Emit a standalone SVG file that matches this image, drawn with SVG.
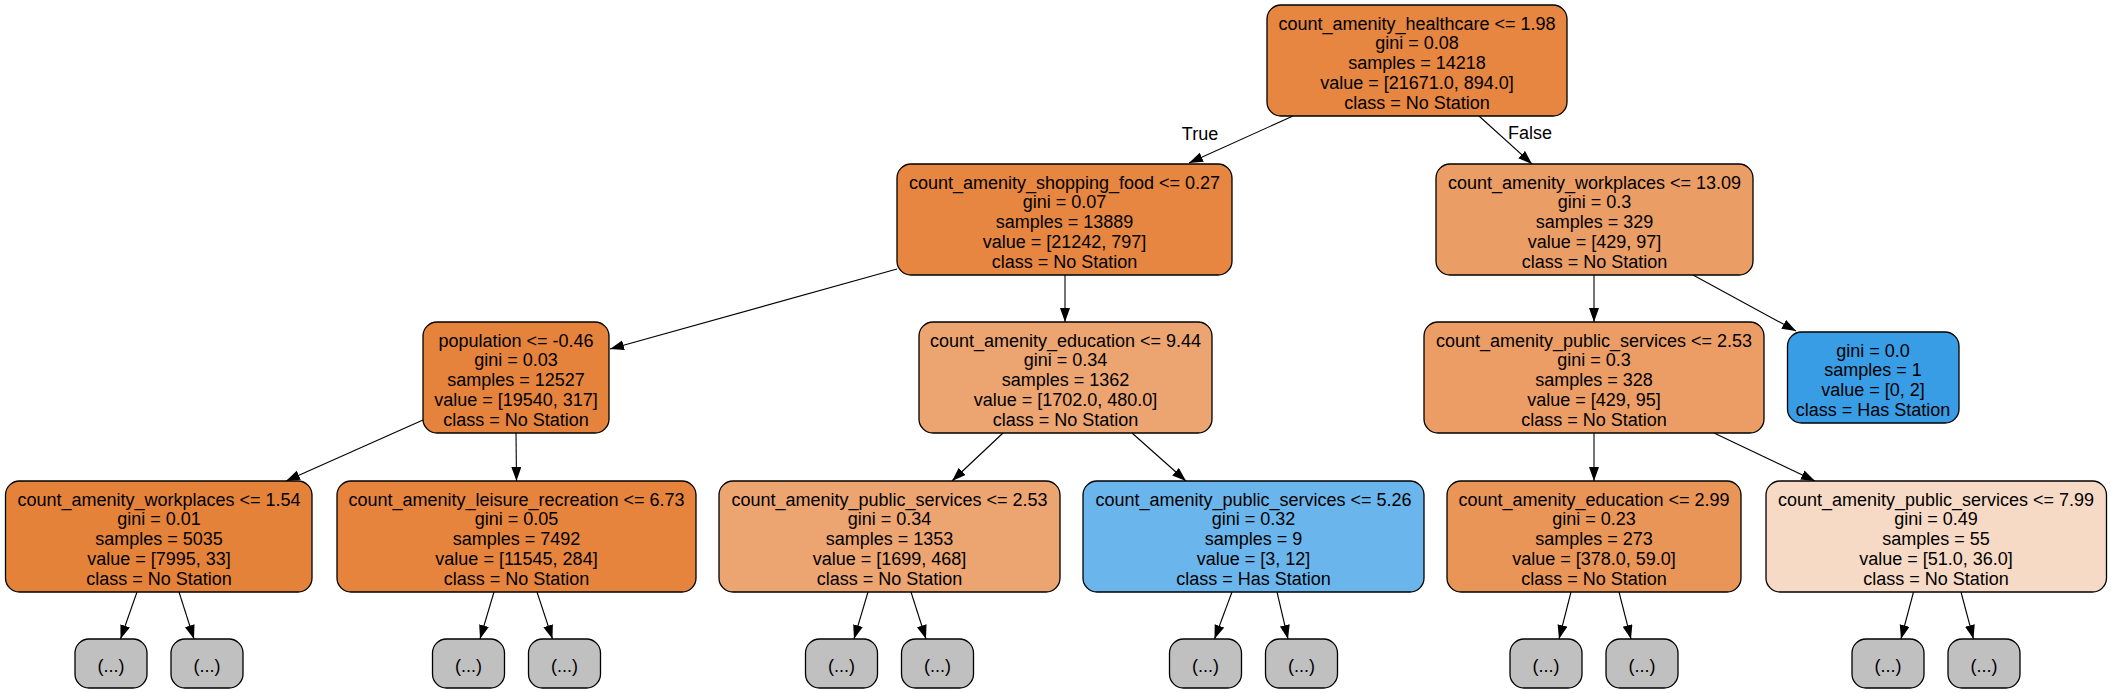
<svg xmlns="http://www.w3.org/2000/svg" width="2111" height="693" viewBox="0 0 2111 693">
<style>
  .box { stroke: #000; stroke-width: 1.3; }
  .leaf { fill: #c0c0c0; stroke: #000; stroke-width: 1.3; }
  text { font-family: "Liberation Sans", Arial, Helvetica, sans-serif; font-size: 18px; fill: #000; text-anchor: middle; }
  .edge { stroke: #000; stroke-width: 1.1; fill: none; marker-end: url(#arr); }
</style>
<defs>
  <marker id="arr" markerUnits="userSpaceOnUse" markerWidth="15" markerHeight="11" refX="14" refY="5" orient="auto">
    <path d="M0,0 L14,5 L0,10 z" fill="#000"/>
  </marker>
</defs>
<rect width="2111" height="693" fill="#fff"/>

<g id="connectors">
  <line class="edge" x1="1293" y1="116" x2="1189" y2="163"/>
  <line class="edge" x1="1479" y1="116" x2="1532" y2="164"/>
  <text x="1200" y="139.5">True</text>
  <text x="1530" y="138.5">False</text>
  <line class="edge" x1="897" y1="269" x2="610" y2="349"/>
  <line class="edge" x1="1065" y1="275" x2="1065" y2="322"/>
  <line class="edge" x1="1594" y1="275" x2="1594" y2="322"/>
  <line class="edge" x1="1693" y1="275" x2="1796" y2="331"/>
  <line class="edge" x1="423" y1="420" x2="286" y2="481"/>
  <line class="edge" x1="516" y1="433" x2="516.5" y2="481"/>
  <line class="edge" x1="1003" y1="433" x2="952" y2="481"/>
  <line class="edge" x1="1132" y1="433" x2="1186" y2="481"/>
  <line class="edge" x1="1594" y1="433" x2="1594" y2="481"/>
  <line class="edge" x1="1714" y1="433" x2="1815" y2="481"/>
  <line class="edge" x1="137" y1="592" x2="120.5" y2="639"/>
  <line class="edge" x1="179" y1="592" x2="194" y2="639"/>
  <line class="edge" x1="494" y1="592" x2="480" y2="639"/>
  <line class="edge" x1="537" y1="592" x2="552.5" y2="639"/>
  <line class="edge" x1="868" y1="592" x2="854" y2="639"/>
  <line class="edge" x1="911" y1="592" x2="926" y2="639"/>
  <line class="edge" x1="1232" y1="592" x2="1214.5" y2="639"/>
  <line class="edge" x1="1277" y1="592" x2="1288" y2="639"/>
  <line class="edge" x1="1571" y1="592" x2="1559" y2="639"/>
  <line class="edge" x1="1619" y1="592" x2="1631" y2="639"/>
  <line class="edge" x1="1913.5" y1="592" x2="1901" y2="639"/>
  <line class="edge" x1="1961" y1="592" x2="1973.5" y2="639"/>
</g>

<g id="n0">
  <rect class="box" x="1267" y="5" width="300" height="111" rx="14" fill="#e68641"/>
  <text x="1417" y="29.5">count_amenity_healthcare &lt;= 1.98</text>
  <text x="1417" y="49.25">gini = 0.08</text>
  <text x="1417" y="69">samples = 14218</text>
  <text x="1417" y="88.75">value = [21671.0, 894.0]</text>
  <text x="1417" y="108.5">class = No Station</text>
</g>
<g id="n1">
  <rect class="box" x="897" y="164" width="335" height="111" rx="14" fill="#e68640"/>
  <text x="1064.5" y="188.5">count_amenity_shopping_food &lt;= 0.27</text>
  <text x="1064.5" y="208.25">gini = 0.07</text>
  <text x="1064.5" y="228">samples = 13889</text>
  <text x="1064.5" y="247.75">value = [21242, 797]</text>
  <text x="1064.5" y="267.5">class = No Station</text>
</g>
<g id="n2">
  <rect class="box" x="1436" y="164" width="317" height="111" rx="14" fill="#eb9d66"/>
  <text x="1594.5" y="188.5">count_amenity_workplaces &lt;= 13.09</text>
  <text x="1594.5" y="208.25">gini = 0.3</text>
  <text x="1594.5" y="228">samples = 329</text>
  <text x="1594.5" y="247.75">value = [429, 97]</text>
  <text x="1594.5" y="267.5">class = No Station</text>
</g>
<g id="n3">
  <rect class="box" x="423" y="322" width="186" height="111" rx="14" fill="#e5833c"/>
  <text x="516" y="346.5">population &lt;= -0.46</text>
  <text x="516" y="366.25">gini = 0.03</text>
  <text x="516" y="386">samples = 12527</text>
  <text x="516" y="405.75">value = [19540, 317]</text>
  <text x="516" y="425.5">class = No Station</text>
</g>
<g id="n4">
  <rect class="box" x="919" y="322" width="293" height="111" rx="14" fill="#eca571"/>
  <text x="1065.5" y="346.5">count_amenity_education &lt;= 9.44</text>
  <text x="1065.5" y="366.25">gini = 0.34</text>
  <text x="1065.5" y="386">samples = 1362</text>
  <text x="1065.5" y="405.75">value = [1702.0, 480.0]</text>
  <text x="1065.5" y="425.5">class = No Station</text>
</g>
<g id="n5">
  <rect class="box" x="1424" y="322" width="340" height="111" rx="14" fill="#eb9d65"/>
  <text x="1594" y="346.5">count_amenity_public_services &lt;= 2.53</text>
  <text x="1594" y="366.25">gini = 0.3</text>
  <text x="1594" y="386">samples = 328</text>
  <text x="1594" y="405.75">value = [429, 95]</text>
  <text x="1594" y="425.5">class = No Station</text>
</g>
<g id="n6">
  <rect class="box" x="1787.5" y="332" width="171.5" height="91" rx="14" fill="#399de5"/>
  <text x="1873" y="356.5">gini = 0.0</text>
  <text x="1873" y="376.25">samples = 1</text>
  <text x="1873" y="396">value = [0, 2]</text>
  <text x="1873" y="415.75">class = Has Station</text>
</g>
<g id="n7">
  <rect class="box" x="5.5" y="481" width="306.5" height="111" rx="14" fill="#e5823a"/>
  <text x="159" y="505.5">count_amenity_workplaces &lt;= 1.54</text>
  <text x="159" y="525.25">gini = 0.01</text>
  <text x="159" y="545">samples = 5035</text>
  <text x="159" y="564.75">value = [7995, 33]</text>
  <text x="159" y="584.5">class = No Station</text>
</g>
<g id="n8">
  <rect class="box" x="337" y="481" width="359" height="111" rx="14" fill="#e6843e"/>
  <text x="516.5" y="505.5">count_amenity_leisure_recreation &lt;= 6.73</text>
  <text x="516.5" y="525.25">gini = 0.05</text>
  <text x="516.5" y="545">samples = 7492</text>
  <text x="516.5" y="564.75">value = [11545, 284]</text>
  <text x="516.5" y="584.5">class = No Station</text>
</g>
<g id="n9">
  <rect class="box" x="719" y="481" width="341" height="111" rx="14" fill="#eca470"/>
  <text x="889.5" y="505.5">count_amenity_public_services &lt;= 2.53</text>
  <text x="889.5" y="525.25">gini = 0.34</text>
  <text x="889.5" y="545">samples = 1353</text>
  <text x="889.5" y="564.75">value = [1699, 468]</text>
  <text x="889.5" y="584.5">class = No Station</text>
</g>
<g id="n10">
  <rect class="box" x="1083" y="481" width="341" height="111" rx="14" fill="#6ab6ec"/>
  <text x="1253.5" y="505.5">count_amenity_public_services &lt;= 5.26</text>
  <text x="1253.5" y="525.25">gini = 0.32</text>
  <text x="1253.5" y="545">samples = 9</text>
  <text x="1253.5" y="564.75">value = [3, 12]</text>
  <text x="1253.5" y="584.5">class = Has Station</text>
</g>
<g id="n11">
  <rect class="box" x="1447" y="481" width="294" height="111" rx="14" fill="#e99558"/>
  <text x="1594" y="505.5">count_amenity_education &lt;= 2.99</text>
  <text x="1594" y="525.25">gini = 0.23</text>
  <text x="1594" y="545">samples = 273</text>
  <text x="1594" y="564.75">value = [378.0, 59.0]</text>
  <text x="1594" y="584.5">class = No Station</text>
</g>
<g id="n12">
  <rect class="box" x="1766" y="481" width="340.5" height="111" rx="14" fill="#f7dac5"/>
  <text x="1936" y="505.5">count_amenity_public_services &lt;= 7.99</text>
  <text x="1936" y="525.25">gini = 0.49</text>
  <text x="1936" y="545">samples = 55</text>
  <text x="1936" y="564.75">value = [51.0, 36.0]</text>
  <text x="1936" y="584.5">class = No Station</text>
</g>

<g id="leaf1"><rect class="leaf" x="75" y="639" width="72" height="49" rx="14"/><text x="111" y="672">(...)</text></g>
<g id="leaf2"><rect class="leaf" x="171" y="639" width="72" height="49" rx="14"/><text x="207" y="672">(...)</text></g>
<g id="leaf3"><rect class="leaf" x="432.5" y="639" width="72" height="49" rx="14"/><text x="468.5" y="672">(...)</text></g>
<g id="leaf4"><rect class="leaf" x="528.5" y="639" width="72" height="49" rx="14"/><text x="564.5" y="672">(...)</text></g>
<g id="leaf5"><rect class="leaf" x="805.5" y="639" width="72" height="49" rx="14"/><text x="841.5" y="672">(...)</text></g>
<g id="leaf6"><rect class="leaf" x="901.5" y="639" width="72" height="49" rx="14"/><text x="937.5" y="672">(...)</text></g>
<g id="leaf7"><rect class="leaf" x="1169.5" y="639" width="72" height="49" rx="14"/><text x="1205.5" y="672">(...)</text></g>
<g id="leaf8"><rect class="leaf" x="1265.5" y="639" width="72" height="49" rx="14"/><text x="1301.5" y="672">(...)</text></g>
<g id="leaf9"><rect class="leaf" x="1510" y="639" width="72" height="49" rx="14"/><text x="1546" y="672">(...)</text></g>
<g id="leaf10"><rect class="leaf" x="1606" y="639" width="72" height="49" rx="14"/><text x="1642" y="672">(...)</text></g>
<g id="leaf11"><rect class="leaf" x="1852" y="639" width="72" height="49" rx="14"/><text x="1888" y="672">(...)</text></g>
<g id="leaf12"><rect class="leaf" x="1948" y="639" width="72" height="49" rx="14"/><text x="1984" y="672">(...)</text></g>
</svg>
